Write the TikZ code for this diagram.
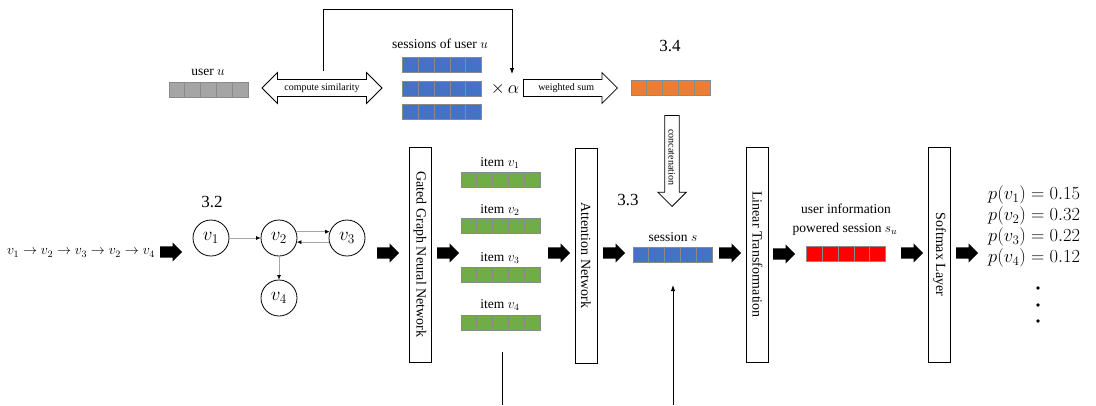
\documentclass[tikz,border=0pt]{standalone}
\usepackage{fix-cm}
\usepackage{fontspec}
\setmainfont{Liberation Serif}
\usetikzlibrary{shapes.arrows,arrows.meta,calc}
\definecolor{vgray}{HTML}{A5A5A5}
\definecolor{vblue}{HTML}{4472C4}
\definecolor{vorange}{HTML}{ED7D31}
\definecolor{vgreen}{HTML}{70AD47}
\definecolor{vred}{HTML}{FF0000}
\definecolor{cellline}{HTML}{8A8A8A}
\begin{document}
\begin{tikzpicture}[x=1pt,y=-1pt,
  lbl/.style={inner sep=0, font=\fontsize{13.5}{15}\selectfont},
  sec/.style={inner sep=0, font=\fontsize{17}{19}\selectfont},
  pval/.style={inner sep=0, anchor=west, font=\fontsize{18.5}{20}\selectfont},
  vec/.style={draw=cellline, line width=0.8, minimum width=79, minimum height=15, inner sep=0,
    path picture={\foreach \k in {0.2,0.4,0.6,0.8}{\draw[cellline, line width=0.8]
      ($(path picture bounding box.north west)!\k!(path picture bounding box.north east)$) --
      ($(path picture bounding box.south west)!\k!(path picture bounding box.south east)$);}}},
  layer/.style={draw, line width=0.8, rotate=-90, minimum width=215, minimum height=22, inner sep=0,
    font=\fontsize{14}{16}\selectfont},
  blk/.style={single arrow, fill=black, inner xsep=0, inner ysep=5.5, minimum height=22,
    single arrow head extend=4, anchor=tail},
  hollow/.style={single arrow, draw, line width=0.8, fill=white, inner xsep=2, inner ysep=3.5,
    single arrow head extend=7, font=\fontsize{10}{11}\selectfont},
  vnode/.style={circle, draw, line width=0.8, minimum size=36, inner sep=0, font=\fontsize{19}{21}\selectfont},
  gedge/.style={draw=gray!70, line width=0.7, -{Latex[length=4.5pt,width=4pt,color=black]}},
  conn/.style={draw, line width=0.9, -{Latex[length=6pt,width=4.5pt]}},
  plain/.style={draw, line width=0.9}
]
\useasboundingbox (0,0) rectangle (1096,405);

% ---- top row ----
\node[lbl] (ulbl) at (208,72) {user $u$};
\node[vec, fill=vgray] (uvec) at (208.5,89.5) {};
\node[double arrow, draw, line width=0.8, fill=white, inner xsep=2, inner ysep=3.5,
  double arrow head extend=7, minimum height=120, font=\fontsize{10}{11}\selectfont]
  (sim) at (322,88) {compute similarity};
\node[lbl] (slbl) at (440,44) {sessions of user $u$};
\node[vec, fill=vblue] (s1) at (442,65) {};
\node[vec, fill=vblue] (s2) at (442,89) {};
\node[vec, fill=vblue] (s3) at (442,112) {};
\node[inner sep=0, font=\fontsize{18}{20}\selectfont] (alpha) at (505,89) {$\times\,\alpha$};
\node[hollow, minimum height=94, anchor=tail] (wsum) at (523,88) {weighted sum};
\node[sec] (n34) at (670,46) {3.4};
\node[vec, fill=vorange] (uo) at (670.5,88) {};
\node[hollow, rotate=-90, minimum height=91, anchor=tip] (concat) at (672,207) {concatenation};

\coordinate (fbA) at (323,71);
\coordinate (fbTop) at (323,9);
\coordinate (fbB) at (512,74);
\draw[conn] (fbA) -- (fbTop) -| (fbB);

% ---- left part ----
\node[inner sep=0, font=\fontsize{14}{16}\selectfont] (seq) at (81,253)
  {$v_1\rightarrow v_2\rightarrow v_3\rightarrow v_2\rightarrow v_4$};
\node[blk] (a0) at (160,252) {};
\node[sec] (n32) at (212,202) {3.2};
\node[vnode] (v1) at (211,238) {$v_1$};
\node[vnode] (v2) at (279,238) {$v_2$};
\node[vnode] (v3) at (347,238) {$v_3$};
\node[vnode] (v4) at (279,298) {$v_4$};
\draw[gedge] (v1) -- (v2);
\draw[gedge] (v2.20) -- (v3.160);
\draw[gedge] (v3.-167) -- (v2.-13);
\draw[gedge] (v2) -- (v4);
\node[blk] (a1) at (377,253) {};

% ---- middle ----
\node[layer] (ggnn) at (420,254.5) {Gated Graph Neural Network};
\node[blk] (a2) at (437,253) {};
\node[lbl] (i1l) at (500,163) {item $v_1$};
\node[vec, fill=vgreen] (i1) at (500.5,179.5) {};
\node[lbl] (i2l) at (500,210) {item $v_2$};
\node[vec, fill=vgreen] (i2) at (500.5,225.5) {};
\node[lbl] (i3l) at (500,258) {item $v_3$};
\node[vec, fill=vgreen] (i3) at (500.5,274.5) {};
\node[lbl] (i4l) at (500,305) {item $v_4$};
\node[vec, fill=vgreen] (i4) at (500.5,322.5) {};
\node[blk] (a3) at (548,253) {};
\node[layer] (att) at (586,255.5) {Attention Network};
\node[blk] (a4) at (603,253) {};
\node[sec] (n33) at (628,200) {3.3};
\node[lbl] (sesl) at (673,237) {session $s$};
\node[vec, fill=vblue] (ses) at (672.5,254.5) {};
\node[blk] (a5) at (719,253) {};

\coordinate (b1top) at (502,352);
\coordinate (b1bot) at (502,405);
\draw[plain] (b1top) -- (b1bot);
\coordinate (b2bot) at (673,405);
\coordinate (b2top) at (673,285);
\draw[conn] (b2bot) -- (b2top);

% ---- right part ----
\node[layer] (lt) at (757.5,254.5) {Linear Transformation};
\node[blk] (a6) at (773,254) {};
\node[lbl] (uil1) at (846,209) {user information};
\node[lbl] (uil2) at (845,229) {powered session $s_u$};
\node[vec, fill=vred] (su) at (846,253.5) {};
\node[blk] (a7) at (901,253) {};
\node[layer] (soft) at (939.5,254.5) {Softmax Layer};
\node[blk] (a8) at (956,253) {};
\node[pval] (p1) at (988,195) {$p(v_1)=0.15$};
\node[pval] (p2) at (988,216) {$p(v_2)=0.32$};
\node[pval] (p3) at (988,237) {$p(v_3)=0.22$};
\node[pval] (p4) at (988,258) {$p(v_4)=0.12$};
\fill (1038,288) circle (1.8);
\fill (1038,305) circle (1.8);
\fill (1038,321) circle (1.8);
\end{tikzpicture}
\end{document}
